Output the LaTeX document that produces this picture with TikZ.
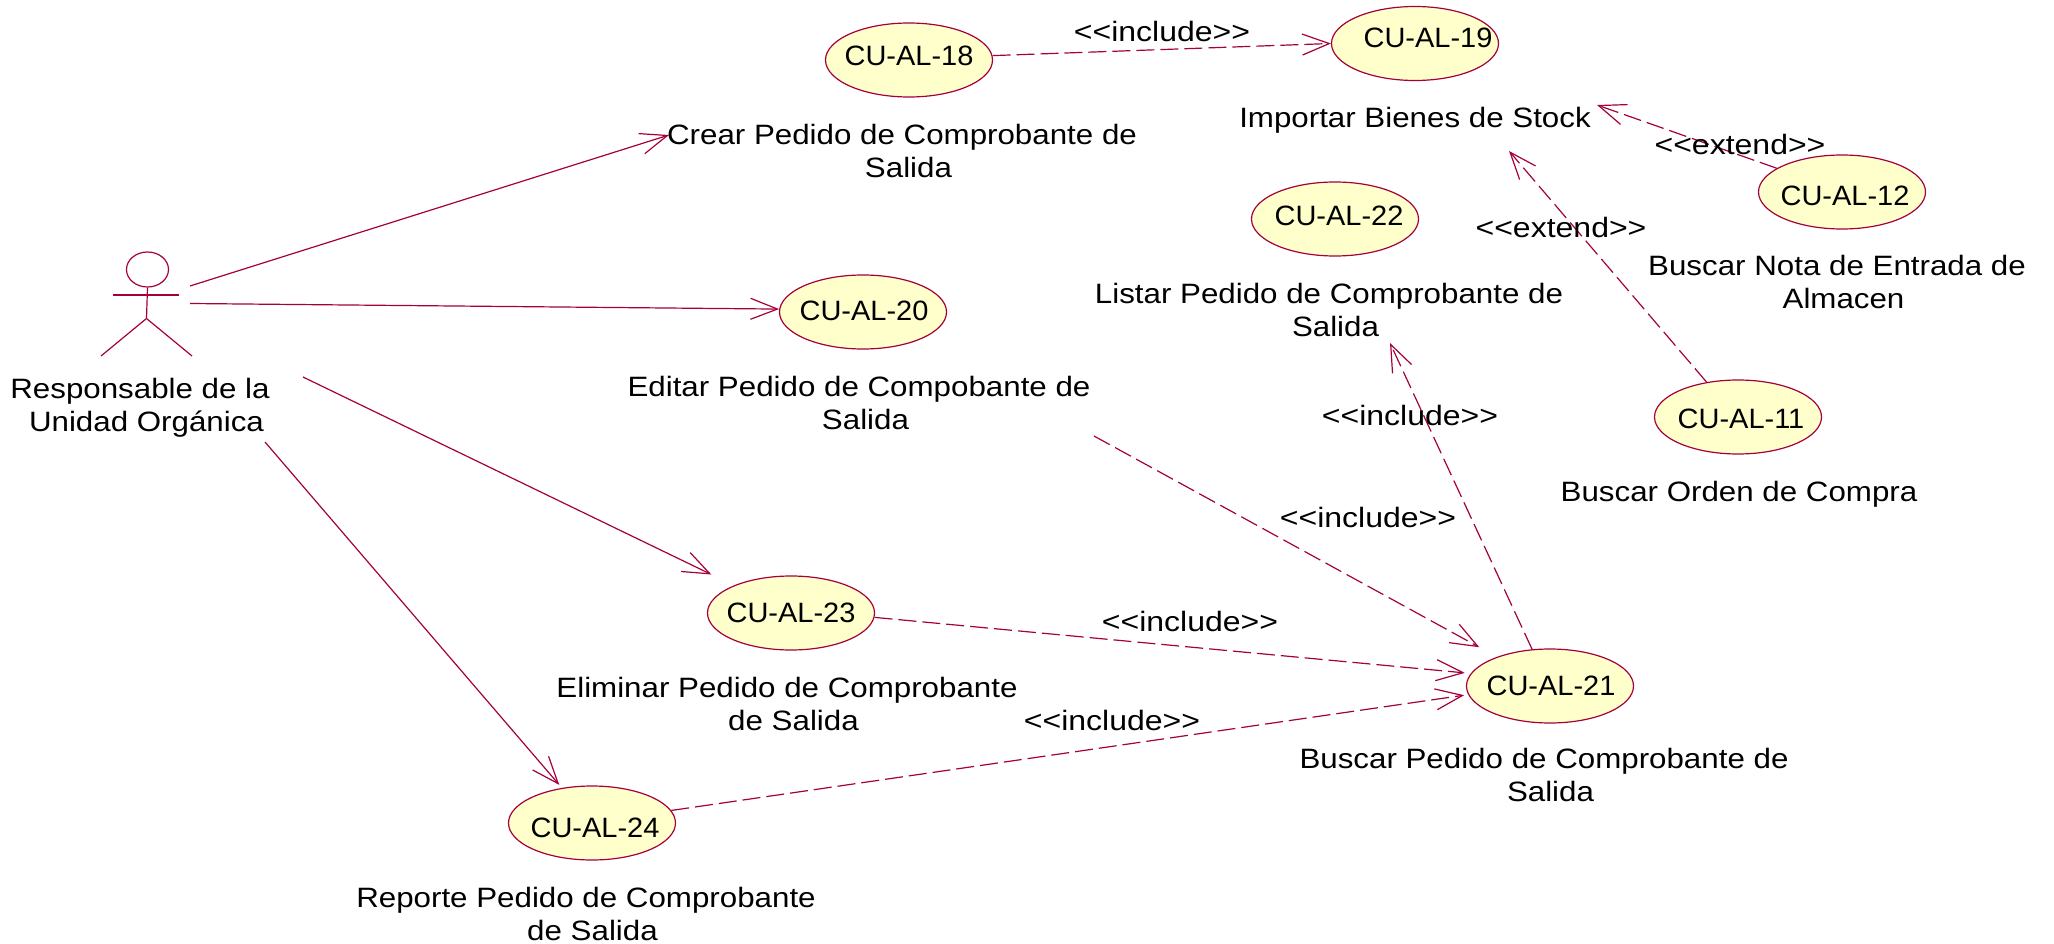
\documentclass[tikz,border=0pt]{standalone}
\usepackage{fontspec}
\setmainfont{Liberation Sans}
\newfontfamily\capfont[FakeStretch=1.118]{Liberation Sans}
\newfontfamily\stereofont[FakeStretch=1.143]{Liberation Sans}
\newfontfamily\idfont[FakeStretch=1.035]{Liberation Sans}
\usetikzlibrary{shapes.geometric,arrows.meta}
\definecolor{rose}{HTML}{A5003C}
\definecolor{ucfill}{HTML}{FFFFCB}
\newcommand{\shifted}[3]{\raisebox{\dimexpr#2pt-10pt\relax}[0pt][0pt]{\makebox[0pt]{\kern#1pt\kern#1pt #3}}}
\newcommand{\nudge}{\hspace*{13pt}}
\tikzset{
  usecase/.style={ellipse,draw=rose,fill=ucfill,line width=1.2pt,minimum width=167pt,minimum height=74pt,inner sep=0pt,font=\idfont\fontsize{28}{33}\selectfont,text=black},
  caption/.style={align=center,inner sep=0pt,font=\capfont\fontsize{28}{33}\selectfont,text=black},
  stereo/.style={inner sep=0pt,font=\stereofont\fontsize{28}{33}\selectfont,text=black},
  assoc/.style={draw=rose,line width=1.2pt,-{Straight Barb[length=27pt,width=21pt,line width=1.2pt]}},
  dep/.style={assoc,dash pattern=on 18pt off 6pt},
  actorline/.style={draw=rose,line width=1.2pt}
}
\begin{document}
\begin{tikzpicture}[x=1pt,y=-1pt]
\useasboundingbox (0,0) rectangle (2054,944);
\fill[white] (0,0) rectangle (2054,944);
% use cases
\node[usecase] (u18) at (909,60) {\shifted{0}{4}{CU-AL-18}};
\node[usecase] (u19) at (1415,43.5) {\shifted{13}{6}{CU-AL-19}};
\node[usecase] (u20) at (863,312) {\shifted{1}{1}{CU-AL-20}};
\node[usecase] (u22) at (1335,219) {\shifted{4}{3}{CU-AL-22}};
\node[usecase] (u12) at (1842,192) {\shifted{3}{-4}{CU-AL-12}};
\node[usecase] (u11) at (1738,417) {\shifted{3}{-1}{CU-AL-11}};
\node[usecase] (u23) at (791,613) {\shifted{0}{1}{CU-AL-23}};
\node[usecase] (u21) at (1550,686) {\shifted{1}{1}{CU-AL-21}};
\node[usecase] (u24) at (592,823) {\shifted{3}{-4}{CU-AL-24}};
% actor
\node[ellipse,draw=rose,line width=1.2pt,minimum width=42pt,minimum height=35pt,inner sep=0pt] (head) at (147.5,269.5) {};
\coordinate (hip) at (146.5,318.5);
\coordinate (armL) at (113,295);
\coordinate (armR) at (179,295);
\coordinate (legL) at (101,356);
\coordinate (legR) at (192,356);
\draw[actorline] (head.south) -- (hip);
\draw[actorline] (armL) -- (armR);
\draw[actorline] (legL) -- (hip) -- (legR);
% free ends
\coordinate (a1) at (190,286);
\coordinate (a2) at (190,303.5);
\coordinate (a3) at (303,377);
\coordinate (a4) at (265,442);
\coordinate (crearEnd) at (669,135);
\coordinate (stockA) at (1597,105);
\coordinate (stockB) at (1509,151);
\coordinate (listarEnd) at (1390,343);
\coordinate (editarEnd) at (1094,436);
% connectors
\draw[assoc] (a1) -- (crearEnd);
\draw[assoc] (a2) -- (u20.178);
\draw[assoc,shorten >=25pt] (a3) -- (u23);
\draw[assoc,shorten >=4pt] (a4) -- (u24);
\draw[dep] (u18.3) -- (u19.180);
\draw[dep] (u12.160) -- (stockA);
\draw[dep] (u11.132) -- (stockB);
\draw[dep] (u21.116) -- (listarEnd);
\draw[dep,shorten >=20pt] (editarEnd) -- (u21);
\draw[dep,shorten >=6pt] (u23.-3.4) -- (u21.171.6);
\draw[dep,shorten >=4pt] (u24.9) -- (u21.186);
% captions
\node[caption] (tActor) at (140,408) {Responsable de la\\\nudge Unidad Orgánica};
\node[caption] (t18) at (902,151) {Crear Pedido de Comprobante de\\\nudge Salida};
\node[caption] (t19) at (1415,120) {Importar Bienes de Stock};
\node[caption] (t22) at (1329,310) {Listar Pedido de Comprobante de\\\nudge Salida};
\node[caption] (t12) at (1837,282) {Buscar Nota de Entrada de\\\nudge Almacen};
\node[caption] (t20) at (859,403) {Editar Pedido de Compobante de\\\nudge Salida};
\node[caption] (t11) at (1739,494) {Buscar Orden de Compra};
\node[caption] (t23) at (787,703.5) {Eliminar Pedido de Comprobante\\\nudge de Salida};
\node[caption] (t21) at (1544,775) {Buscar Pedido de Comprobante de\\\nudge Salida};
\node[caption] (t24) at (586,914) {Reporte Pedido de Comprobante\\\nudge de Salida};
% stereotypes
\node[stereo] (s1) at (1162,31) {<{}<include>{}>};
\node[stereo] (s2) at (1740,144) {<{}<extend>{}>};
\node[stereo] (s3) at (1561,227) {<{}<extend>{}>};
\node[stereo] (s4) at (1410,415) {<{}<include>{}>};
\node[stereo] (s5) at (1368,517) {<{}<include>{}>};
\node[stereo] (s6) at (1190,621) {<{}<include>{}>};
\node[stereo] (s7) at (1112,720) {<{}<include>{}>};
\end{tikzpicture}
\end{document}
